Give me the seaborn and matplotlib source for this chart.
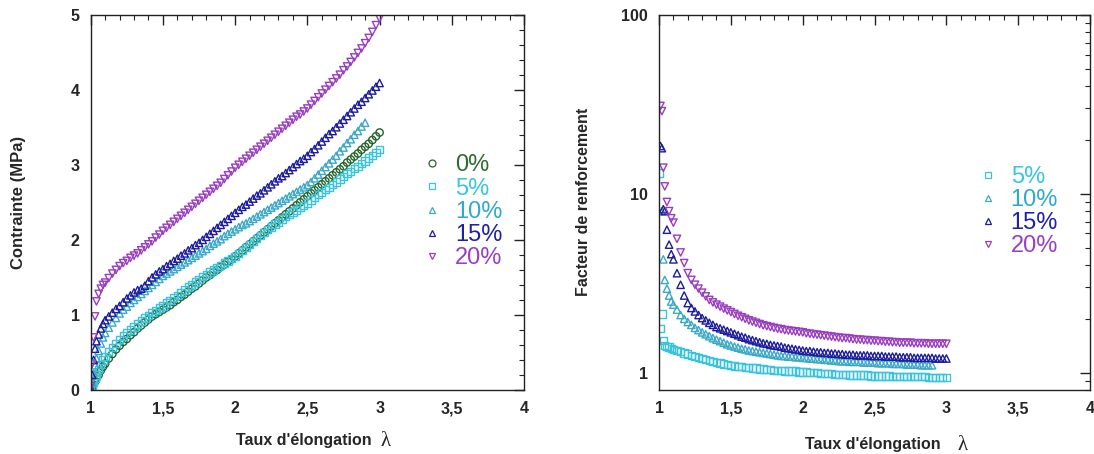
import numpy as np
import pandas as pd
import matplotlib
matplotlib.use("Agg")
import matplotlib.pyplot as plt
from matplotlib.ticker import FuncFormatter, MultipleLocator, LogLocator, NullFormatter
from matplotlib.lines import Line2D
import seaborn as sns

sns.set_style("white")
plt.rcParams['font.family'] = ['Liberation Sans', 'DejaVu Sans']

nan = np.nan

# taux d'elongation (lambda)
lam = [1.000, 1.010, 1.020, 1.030, 1.040, 1.055, 1.070, 1.085, 1.100,
       1.125, 1.150, 1.175, 1.200, 1.225, 1.250, 1.275, 1.300, 1.325, 1.350, 1.375, 1.400,
       1.425, 1.450, 1.475, 1.500, 1.525, 1.550, 1.575, 1.600, 1.625, 1.650, 1.675, 1.700,
       1.725, 1.750, 1.775, 1.800, 1.825, 1.850, 1.875, 1.900, 1.925, 1.950, 1.975, 2.000,
       2.025, 2.050, 2.075, 2.100, 2.125, 2.150, 2.175, 2.200, 2.225, 2.250, 2.275, 2.300,
       2.325, 2.350, 2.375, 2.400, 2.425, 2.450, 2.475, 2.500, 2.525, 2.550, 2.575, 2.600,
       2.625, 2.650, 2.675, 2.700, 2.725, 2.750, 2.775, 2.800, 2.825, 2.850, 2.875, 2.900,
       2.925, 2.950, 2.975, 3.000]

# contrainte (MPa)
s0 = [0.00, 0.03, 0.07, 0.11, 0.15, 0.20, 0.26, 0.31, 0.35,
      0.42, 0.48, 0.54, 0.59, 0.64, 0.68, 0.73, 0.77, 0.82, 0.86, 0.90, 0.94,
      0.98, 1.01, 1.04, 1.07, 1.10, 1.13, 1.17, 1.20, 1.24, 1.27, 1.31, 1.35,
      1.38, 1.42, 1.46, 1.50, 1.53, 1.57, 1.60, 1.64, 1.67, 1.71, 1.74, 1.78,
      1.82, 1.86, 1.90, 1.94, 1.98, 2.02, 2.06, 2.10, 2.14, 2.18, 2.22, 2.26,
      2.30, 2.34, 2.38, 2.42, 2.46, 2.50, 2.54, 2.58, 2.62, 2.66, 2.70, 2.74,
      2.78, 2.82, 2.86, 2.90, 2.94, 2.98, 3.03, 3.07, 3.11, 3.15, 3.20, 3.24,
      3.28, 3.33, 3.38, 3.43]
s5 = [0.00, 0.05, 0.10, 0.15, 0.20, 0.27, 0.34, 0.40, 0.45,
      0.51, 0.57, 0.62, 0.67, 0.72, 0.76, 0.80, 0.84, 0.88, 0.92, 0.96, 0.99,
      1.03, 1.06, 1.09, 1.12, 1.16, 1.19, 1.23, 1.26, 1.30, 1.33, 1.37, 1.40,
      1.44, 1.47, 1.51, 1.54, 1.57, 1.60, 1.63, 1.66, 1.69, 1.72, 1.75, 1.78,
      1.82, 1.86, 1.90, 1.94, 1.98, 2.02, 2.06, 2.10, 2.14, 2.17, 2.21, 2.24,
      2.28, 2.31, 2.34, 2.37, 2.40, 2.43, 2.46, 2.49, 2.53, 2.56, 2.60, 2.63,
      2.67, 2.70, 2.74, 2.77, 2.81, 2.84, 2.88, 2.91, 2.95, 2.98, 3.02, 3.05,
      3.09, 3.12, 3.16, 3.20]
s10 = [0.00, 0.10, 0.22, 0.33, 0.42, 0.52, 0.62, 0.70, 0.76,
       0.83, 0.90, 0.96, 1.02, 1.07, 1.11, 1.16, 1.20, 1.24, 1.28, 1.32, 1.36,
       1.40, 1.44, 1.48, 1.52, 1.55, 1.58, 1.61, 1.64, 1.67, 1.70, 1.73, 1.76,
       1.79, 1.82, 1.85, 1.88, 1.92, 1.95, 1.98, 2.01, 2.05, 2.08, 2.11, 2.14,
       2.17, 2.20, 2.22, 2.25, 2.28, 2.31, 2.34, 2.37, 2.40, 2.43, 2.46, 2.49,
       2.52, 2.55, 2.58, 2.61, 2.64, 2.67, 2.70, 2.73, 2.77, 2.82, 2.87, 2.92,
       2.97, 3.02, 3.07, 3.12, 3.18, 3.23, 3.29, 3.34, 3.40, 3.45, 3.51, 3.56,
       nan, nan, nan, nan]
s15 = [0.02, 0.20, 0.40, 0.55, 0.65, 0.74, 0.82, 0.88, 0.93,
       0.98, 1.03, 1.08, 1.12, 1.17, 1.22, 1.26, 1.30, 1.33, 1.35, 1.39, 1.45,
       1.50, 1.54, 1.58, 1.61, 1.65, 1.68, 1.72, 1.75, 1.79, 1.82, 1.86, 1.89,
       1.93, 1.96, 2.00, 2.04, 2.08, 2.12, 2.16, 2.20, 2.24, 2.28, 2.32, 2.36,
       2.40, 2.44, 2.47, 2.51, 2.55, 2.59, 2.62, 2.66, 2.70, 2.74, 2.78, 2.82,
       2.85, 2.89, 2.93, 2.97, 3.01, 3.05, 3.08, 3.12, 3.17, 3.21, 3.26, 3.31,
       3.36, 3.41, 3.45, 3.50, 3.55, 3.60, 3.65, 3.70, 3.75, 3.80, 3.84, 3.89,
       3.94, 3.99, 4.04, 4.09]
s20 = [0.05, 0.35, 0.70, 0.98, 1.18, 1.28, 1.35, 1.40, 1.43,
       1.49, 1.55, 1.60, 1.65, 1.69, 1.72, 1.76, 1.79, 1.82, 1.86, 1.90, 1.94,
       1.98, 2.03, 2.07, 2.12, 2.16, 2.20, 2.24, 2.28, 2.32, 2.36, 2.40, 2.44,
       2.48, 2.52, 2.56, 2.60, 2.64, 2.68, 2.72, 2.76, 2.81, 2.86, 2.91, 2.96,
       3.00, 3.04, 3.08, 3.12, 3.16, 3.20, 3.24, 3.28, 3.32, 3.36, 3.40, 3.44,
       3.48, 3.52, 3.56, 3.60, 3.64, 3.67, 3.71, 3.75, 3.80, 3.85, 3.90, 3.95,
       4.00, 4.05, 4.10, 4.15, 4.20, 4.26, 4.31, 4.37, 4.43, 4.49, 4.55, 4.62,
       4.69, 4.77, 4.86, 4.95]

# facteur de renforcement
f5 = [13.1, 1.76, 2.13, 1.51, 1.42, 1.40, 1.39, 1.37, 1.35,
      1.33, 1.31, 1.29, 1.27, 1.25, 1.23, 1.22, 1.20, 1.18, 1.17, 1.15, 1.14,
      1.13, 1.12, 1.11, 1.10, 1.09, 1.08, 1.08, 1.07, 1.07, 1.06, 1.06, 1.05,
      1.05, 1.04, 1.04, 1.03, 1.03, 1.03, 1.02, 1.02, 1.02, 1.02, 1.01, 1.01,
      1.01, 1.00, 1.00, 1.00, 0.99, 0.99, 0.99, 0.99, 0.98, 0.98, 0.98, 0.98,
      0.97, 0.97, 0.97, 0.97, 0.97, 0.97, 0.96, 0.96, 0.96, 0.96, 0.96, 0.96,
      0.95, 0.95, 0.95, 0.95, 0.95, 0.95, 0.95, 0.95, 0.95, 0.95, 0.94, 0.94,
      0.94, 0.94, 0.94, 0.94]
f10 = [nan, nan, 8.0, 4.3, 3.3, 2.95, 2.7, 2.5, 2.4,
       2.25, 2.10, 2.00, 1.92, 1.85, 1.78, 1.73, 1.68, 1.64, 1.60, 1.56, 1.53,
       1.50, 1.47, 1.44, 1.42, 1.40, 1.38, 1.36, 1.35, 1.33, 1.32, 1.31, 1.30,
       1.29, 1.28, 1.27, 1.26, 1.25, 1.24, 1.24, 1.23, 1.23, 1.22, 1.22, 1.21,
       1.21, 1.20, 1.20, 1.19, 1.19, 1.18, 1.18, 1.17, 1.17, 1.16, 1.16, 1.16,
       1.15, 1.15, 1.15, 1.15, 1.14, 1.14, 1.14, 1.14, 1.13, 1.13, 1.13, 1.13,
       1.12, 1.12, 1.12, 1.12, 1.11, 1.11, 1.11, 1.11, 1.10, 1.10, 1.10, 1.10,
       nan, nan, nan, nan]
f15 = [nan, 18.5, 18.0, 8.2, 8.0, 6.3, 5.2, 4.6, 4.3,
       3.60, 3.10, 2.70, 2.45, 2.30, 2.20, 2.10, 2.02, 1.96, 1.90, 1.85, 1.80,
       1.77, 1.74, 1.71, 1.68, 1.65, 1.62, 1.59, 1.57, 1.54, 1.52, 1.50, 1.48,
       1.46, 1.45, 1.43, 1.42, 1.41, 1.40, 1.38, 1.37, 1.36, 1.35, 1.34, 1.33,
       1.32, 1.32, 1.31, 1.30, 1.30, 1.29, 1.29, 1.28, 1.28, 1.27, 1.27, 1.26,
       1.26, 1.26, 1.25, 1.25, 1.25, 1.25, 1.24, 1.24, 1.24, 1.24, 1.23, 1.23,
       1.23, 1.23, 1.22, 1.22, 1.22, 1.22, 1.21, 1.21, 1.21, 1.21, 1.21, 1.21,
       1.20, 1.20, 1.20, 1.20]
f20 = [nan, 31.0, 29.0, 14.0, 11.0, 9.0, 8.0, 7.3, 6.9,
       5.60, 4.70, 4.10, 3.60, 3.30, 3.10, 2.95, 2.80, 2.67, 2.55, 2.47, 2.40,
       2.34, 2.28, 2.23, 2.18, 2.13, 2.08, 2.04, 2.00, 1.96, 1.93, 1.90, 1.87,
       1.84, 1.82, 1.80, 1.78, 1.76, 1.75, 1.73, 1.72, 1.71, 1.70, 1.69, 1.68,
       1.66, 1.65, 1.64, 1.63, 1.62, 1.61, 1.60, 1.59, 1.58, 1.57, 1.56, 1.56,
       1.55, 1.54, 1.53, 1.53, 1.52, 1.52, 1.51, 1.51, 1.50, 1.50, 1.49, 1.49,
       1.48, 1.48, 1.47, 1.47, 1.47, 1.47, 1.46, 1.46, 1.46, 1.46, 1.45, 1.45,
       1.45, 1.45, 1.45, 1.45]

labels = ["0%", "5%", "10%", "15%", "20%"]
markers = {"0%": "o", "5%": "s", "10%": "^", "15%": "^", "20%": "v"}
colors = {"0%": "#24642a", "5%": "#3cc3dc", "10%": "#3aa8c6", "15%": "#1c1c9c", "20%": "#9a3cbf"}
text_colors = {"0%": "#2e6b2e", "5%": "#38c6e2", "10%": "#2fa9cf", "15%": "#1f1fa8", "20%": "#9b3dc2"}

stress = {"0%": s0, "5%": s5, "10%": s10, "15%": s15, "20%": s20}
factor = {"5%": f5, "10%": f10, "15%": f15, "20%": f20}

fig = plt.figure(figsize=(10.94, 4.54), dpi=100)
ax1 = fig.add_axes([0.0829, 0.1410, 0.3961, 0.8267])
ax2 = fig.add_axes([0.6024, 0.1410, 0.3940, 0.8260])

comma = FuncFormatter(lambda v, p: ("%g" % v).replace(".", ","))

for lab in labels:
    df = pd.DataFrame({"lam": lam, "val": stress[lab]}).dropna()
    sns.scatterplot(data=df, x="lam", y="val", ax=ax1, marker=markers[lab], s=28,
                    facecolor="none", edgecolor=colors[lab], linewidth=1.0, legend=False)

for lab in labels[1:]:
    df = pd.DataFrame({"lam": lam, "val": factor[lab]}).dropna()
    sns.scatterplot(data=df, x="lam", y="val", ax=ax2, marker=markers[lab], s=28,
                    facecolor="none", edgecolor=colors[lab], linewidth=1.0, legend=False)

ax1.set_xlim(1, 4)
ax1.set_ylim(0, 5)
ax1.xaxis.set_major_locator(MultipleLocator(0.5))
ax1.xaxis.set_minor_locator(MultipleLocator(0.1))
ax1.yaxis.set_major_locator(MultipleLocator(1))
ax1.yaxis.set_minor_locator(MultipleLocator(0.2))

ax2.set_xlim(1, 4)
ax2.set_yscale("log")
ax2.set_ylim(0.8, 100)
ax2.xaxis.set_major_locator(MultipleLocator(0.5))
ax2.xaxis.set_minor_locator(MultipleLocator(0.1))
ax2.yaxis.set_major_locator(LogLocator(base=10, numticks=5))
ax2.yaxis.set_minor_locator(LogLocator(base=10, subs=np.arange(2, 10), numticks=20))
ax2.yaxis.set_minor_formatter(NullFormatter())
ax2.yaxis.set_major_formatter(FuncFormatter(lambda v, p: "%d" % round(v)))
ax1.yaxis.set_major_formatter(FuncFormatter(lambda v, p: "%d" % v))

for ax in (ax1, ax2):
    ax.xaxis.set_major_formatter(comma)
    ax.set_xlabel("")
    ax.set_ylabel("")
    ax.tick_params(which="both", direction="in", top=True, right=True, color="#222222")
    ax.tick_params(which="major", length=7, width=1.0, labelsize=11.5, pad=8)
    ax.tick_params(which="minor", length=3.5, width=0.8)
    for t in ax.get_xticklabels() + ax.get_yticklabels():
        t.set_fontweight("bold")
    for sp in ax.spines.values():
        sp.set_color("#222222")
        sp.set_linewidth(1.0)


def add_legend(ax, labs, anchor):
    handles = [Line2D([], [], linestyle="none", marker=markers[l], markersize=5,
                      markerfacecolor="none", markeredgecolor=colors[l], markeredgewidth=0.9)
               for l in labs]
    leg = ax.legend(handles, labs, loc="upper left", bbox_to_anchor=anchor, frameon=False,
                    fontsize=17, handlelength=1.0, handletextpad=0.45, labelspacing=0.05,
                    borderpad=0)
    for txt, l in zip(leg.get_texts(), labs):
        txt.set_color(text_colors[l])


add_legend(ax1, labels, (0.734, 0.659))
add_legend(ax2, labels[1:], (0.709, 0.629))

fig.text(19 / 1094, 0.555, "Contrainte (MPa)", rotation=90, ha="center", va="center",
         fontsize=12, fontweight="bold")
fig.text(583 / 1094, 0.555, "Facteur de renforcement", rotation=90, ha="center", va="center",
         fontsize=11.5, fontweight="bold")
fig.text(304 / 1094, 1 - 440 / 454, "Taux d'élongation", ha="center", va="center",
         fontsize=11.5, fontweight="bold")
fig.text(386 / 1094, 1 - 441 / 454, "λ", ha="center", va="center", fontsize=15,
         family=["Liberation Serif", "DejaVu Serif"])
fig.text(873 / 1094, 1 - 445 / 454, "Taux d'élongation", ha="center", va="center",
         fontsize=11.5, fontweight="bold")
fig.text(963 / 1094, 1 - 446 / 454, "λ", ha="center", va="center", fontsize=15,
         family=["Liberation Serif", "DejaVu Serif"])

fig.savefig("out.png", dpi=100)
